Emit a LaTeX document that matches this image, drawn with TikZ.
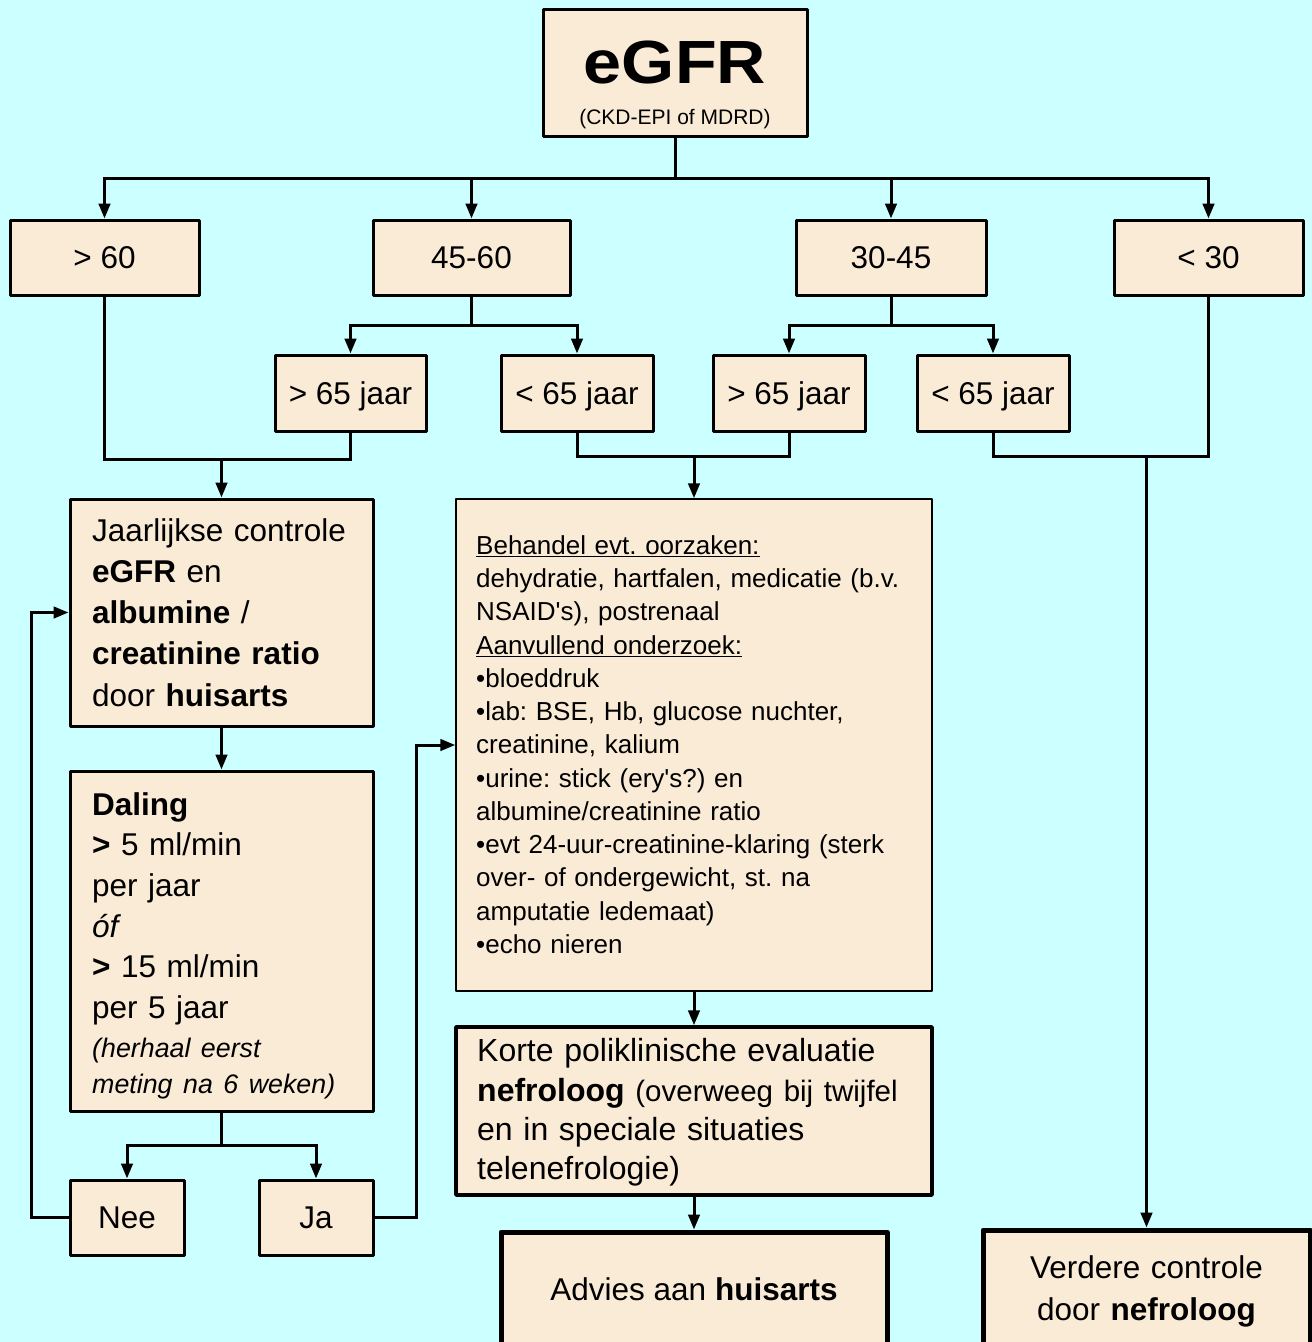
\documentclass[tikz,border=0pt]{standalone}
\usepackage{fontspec}
\setmainfont{Liberation Sans}
\usepackage{graphicx}
\usetikzlibrary{arrows.meta}
\definecolor{bg}{HTML}{CCFFFF}
\definecolor{boxfill}{HTML}{FAEBD7}
\frenchspacing
\begin{document}
\begin{tikzpicture}[x=1pt,y=-1pt,
  box/.style={draw=black, fill=boxfill, line width=3pt, inner sep=0pt, line join=round},
  lvl/.style={font=\fontsize{31.5}{38}\selectfont, text height=22.5pt, text depth=0pt},
  conn/.style={line width=3pt, line join=miter},
  arr/.style={conn, -{Triangle[length=15pt,width=11.5pt]}},
  txt/.style={anchor=base west, inner sep=0pt, align=left, text width=480pt},
  txtc/.style={anchor=base, inner sep=0pt, align=center, text width=330pt},
]
\fill[bg] (0,0) rectangle (1312,1342);
\useasboundingbox (0,0) rectangle (1312,1342);

% boxes
\node[box, minimum width=264pt, minimum height=127pt] (egfr) at (675,72.5) {};
\node[box, lvl, minimum width=189pt, minimum height=75pt] (g60) at (104.5,257.5) {> 60};
\node[box, lvl, minimum width=197pt, minimum height=75pt] (g4560) at (471.5,257.5) {45-60};
\node[box, lvl, minimum width=190pt, minimum height=75pt] (g3045) at (891,257.5) {30-45};
\node[box, lvl, minimum width=189pt, minimum height=75pt] (l30) at (1208.5,257.5) {< 30};
\node[box, lvl, minimum width=151pt, minimum height=76pt] (a1) at (350.5,393) {> 65 jaar};
\node[box, lvl, minimum width=152pt, minimum height=76pt] (a2) at (577,393) {< 65 jaar};
\node[box, lvl, minimum width=152pt, minimum height=76pt] (a3) at (789,393) {> 65 jaar};
\node[box, lvl, minimum width=152pt, minimum height=76pt] (a4) at (993,393) {< 65 jaar};
\node[box, minimum width=303pt, minimum height=227pt] (jaar) at (221.5,612.5) {};
\node[box, minimum width=303pt, minimum height=340pt] (dal) at (221.5,941) {};
\node[box, lvl, minimum width=114pt, minimum height=75pt] (nee) at (127,1217.5) {Nee};
\node[box, lvl, minimum width=114pt, minimum height=75pt] (ja) at (316,1217.5) {Ja};
\node[box, line width=1.5pt, minimum width=476pt, minimum height=492pt] (big) at (694,745) {};
\node[box, line width=3.5pt, minimum width=476pt, minimum height=168pt] (kort) at (694,1111) {};
\node[box, line width=5pt, minimum width=386pt, minimum height=160pt] (adv) at (694,1312) {};
\node[box, line width=5pt, minimum width=327pt, minimum height=160pt] (verd) at (1146.5,1310) {};

% connectors
\coordinate (bus) at (675,178);
\draw[conn] (egfr.south) -- (bus);
\foreach \n in {g60,g4560,g3045,l30} \draw[arr] (bus) -| (\n.north);
\coordinate (s1) at (471.5,325);
\coordinate (s2) at (891,325);
\draw[conn] (g4560.south) -- (s1);
\draw[arr] (s1) -| (a1.north);
\draw[arr] (s1) -| (a2.north);
\draw[conn] (g3045.south) -- (s2);
\draw[arr] (s2) -| (a3.north);
\draw[arr] (s2) -| (a4.north);
\coordinate (m1) at (221.5,459);
\coordinate (m2) at (694,456);
\coordinate (m3) at (1146.5,456);
\draw[conn] (g60.south) |- (m1) -| (a1.south);
\draw[arr] (m1) -- (jaar.north);
\draw[conn] (a2.south) |- (m2) -| (a3.south);
\draw[arr] (m2) -- (big.north);
\draw[conn] (a4.south) |- (m3) -| (l30.south);
\draw[arr] (m3) -- (verd.north);
\draw[arr] (jaar.south) -- (dal.north);
\coordinate (s3) at (221.5,1145);
\draw[conn] (dal.south) -- (s3);
\draw[arr] (s3) -| (nee.north);
\draw[arr] (s3) -| (ja.north);
\draw[arr] (nee.west) -- ++(-37,0) |- (jaar.west);
\draw[arr] (ja.east) -- ++(42,0) |- (big.west);
\draw[arr] (big.south) -- (kort.north);
\draw[arr] (kort.south) -- (adv.north);

% texts
\node[anchor=base, inner sep=0pt] (egfrt) at (675,83) {\fontsize{61}{61}\selectfont\bfseries\scalebox{1.12}[1]{eGFR}};
\node[anchor=base, inner sep=0pt] (egfrs) at (675,124) {\fontsize{21}{24}\selectfont (CKD-EPI of MDRD)};
\node[txt, font=\fontsize{31.5}{41.25}\selectfont] (jaart) at (92,541)
  {Jaarlijkse controle\\\textbf{eGFR} en\\\textbf{albumine} /\\\textbf{creatinine ratio}\\door \textbf{huisarts}};
\node[txt, font=\fontsize{31.5}{40.7}\selectfont] (dalt) at (92,815)
  {\textbf{Daling}\\\textbf{>} 5 ml/min\\per jaar\\\textit{óf}\\\textbf{>} 15 ml/min\\per 5 jaar\\[-2.2pt]{\fontsize{26.8}{40.7}\selectfont\itshape (herhaal eerst}\\[-4pt]{\fontsize{26.8}{40.7}\selectfont\itshape meting na 6 weken)}};
\node[txt, font=\fontsize{26}{33.25}\selectfont] (bigt) at (476,554.3)
  {\underline{Behandel evt. oorzaken:}\\
   dehydratie, hartfalen, medicatie (b.v.\\
   NSAID\textquotesingle s), postrenaal\\
   \underline{Aanvullend onderzoek:}\\
   •bloeddruk\\
   •lab: BSE, Hb, glucose nuchter,\\
   creatinine, kalium\\
   •urine: stick (ery\textquotesingle s?) en\\
   albumine/creatinine ratio\\
   •evt 24-uur-creatinine-klaring (sterk\\
   over- of ondergewicht, st. na\\
   amputatie ledemaat)\\
   •echo nieren};
\node[txt, font=\fontsize{32}{39.4}\selectfont] (kortt) at (477,1061.7)
  {Korte poliklinische evaluatie\\\textbf{nefroloog} {\fontsize{29.5}{39.4}\selectfont (overweeg bij twijfel}\\en in speciale situaties\\telenefrologie)};
\node[anchor=base, inner sep=0pt, font=\fontsize{31.5}{38}\selectfont] (advt) at (694,1300.5) {Advies aan \textbf{huisarts}};
\node[txtc, font=\fontsize{31.5}{41.7}\selectfont] (verdt) at (1146.5,1278.3) {Verdere controle\\door \textbf{nefroloog}};
\end{tikzpicture}
\end{document}
